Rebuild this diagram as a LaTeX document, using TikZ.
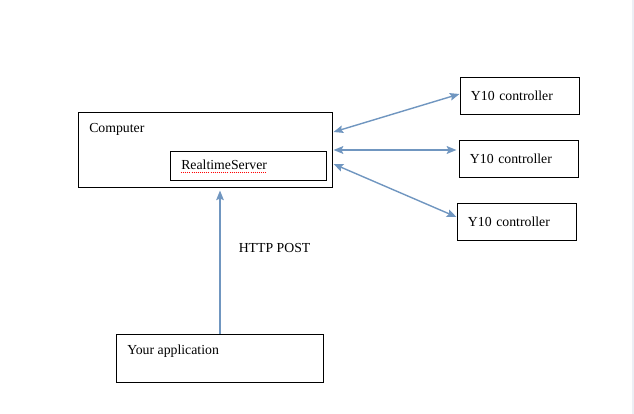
\documentclass[tikz,border=0pt]{standalone}
\usepackage{fontspec}
\setmainfont{Liberation Serif}
\usetikzlibrary{arrows.meta, positioning, calc}
\definecolor{lnkBlue}{RGB}{112,150,192}
\definecolor{pageEdge}{RGB}{236,239,245}

\begin{document}
\begin{tikzpicture}[x=0.025cm, y=-0.025cm,
        box/.style={rectangle, draw=black, line width=0.7pt, inner sep=0pt},
        ctrl/.style={box, minimum width=2.95cm, minimum height=0.925cm, text width=2.45cm, inner xsep=0.25cm, align=left, font=\rmfamily\fontsize{9.8}{12}\selectfont},
        txt/.style={font=\rmfamily\fontsize{9.8}{12}\selectfont, inner sep=0pt, anchor=west},
        link/.style={{Stealth[length=0.24cm, width=0.19cm, inset=0.04cm]}-{Stealth[length=0.24cm, width=0.19cm, inset=0.04cm]}, draw=lnkBlue, line width=1pt},
        post/.style={-{Stealth[length=0.24cm, width=0.19cm, inset=0.04cm]}, draw=lnkBlue, line width=1.1pt},
        squig/.style={red, densely dotted, line width=0.5pt},
    ]
    \useasboundingbox (0,0) rectangle (634,414);
    \fill[pageEdge] (631.5,0) rectangle (634,414);
    \node[box, minimum width=6.325cm, minimum height=1.85cm] at (205.5,150) (computer) {};
    \node[txt] at (89,129) (comptxt) {Computer};
    \node[box, minimum width=3.875cm, minimum height=0.725cm] at (248.5,165.5) (server) {};
    \node[txt] at (181,165) (srvtxt) {RealtimeServer};
    \draw[squig] ($(srvtxt.base west)+(0,3)$) -- ($(srvtxt.base east)+(0,3)$);
    \node[ctrl] at (520,95.5) (ctrlA) {Y10 controller};
    \node[ctrl] at (519,158.5) (ctrlB) {Y10 controller};
    \node[ctrl] at (517,221.5) (ctrlC) {Y10 controller};
    \draw[link] ($(computer.east)+(1,-18)$) -- ($(ctrlA.west)+(-1,-1.5)$);
    \draw[link, line width=1.8pt] ($(computer.east)+(1,0)$) -- ($(ctrlB.west)+(-3,-8.5)$);
    \draw[link] ($(computer.east)+(1,14)$) -- ($(ctrlC.west)+(-1,-4.5)$);
    \node[box, minimum width=5.15cm, minimum height=1.2cm] at (220,358) (app) {};
    \node[txt] at (127,351) (apptxt) {Your application};
    \draw[post] (app.north) -- ($(app.north |- server.south)+(0,10)$) node[txt, pos=0.6, xshift=0.45cm] (httplbl) {HTTP POST};
\end{tikzpicture}
\end{document}
